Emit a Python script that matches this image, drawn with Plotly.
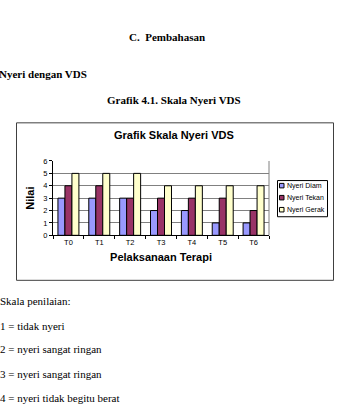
import plotly.graph_objects as go

# ---- data ----
categories = ["T0", "T1", "T2", "T3", "T4", "T5", "T6"]
series_names = ["Nyeri Diam", "Nyeri Tekan", "Nyeri Gerak"]
nyeri_diam = [3, 3, 3, 2, 2, 1, 1]
nyeri_tekan = [4, 4, 3, 3, 3, 3, 2]
nyeri_gerak = [5, 5, 5, 4, 4, 4, 4]
y_ticks = [0, 1, 2, 3, 4, 5, 6]
series_colors = ["#9999FF", "#993366", "#FFFFCC"]

chart_title = "Grafik Skala Nyeri VDS"
x_title = "Pelaksanaan Terapi"
y_title = "Nilai"

doc_heading = "C.\u00a0 Pembahasan"
doc_subheading = "Nyeri dengan VDS"
doc_caption = "Grafik 4.1. Skala Nyeri VDS"
doc_lines = [
    "Skala penilaian:",
    "1 = tidak nyeri",
    "2 = nyeri sangat ringan",
    "3 = nyeri sangat ringan",
    "4 = nyeri tidak begitu berat",
]

W, H = 337, 411


def fx(x):
    return x / W


def fy(y):
    return 1 - y / H


SANS = "Liberation Sans, Arial, sans-serif"
SERIF = "Liberation Serif, Times New Roman, serif"

fig = go.Figure()
for name, vals, col in zip(series_names, [nyeri_diam, nyeri_tekan, nyeri_gerak], series_colors):
    fig.add_trace(go.Bar(
        x=categories, y=vals, name=name,
        marker=dict(color=col, line=dict(color="#000000", width=1)),
        showlegend=False,
    ))

plot_l, plot_r, plot_t, plot_b = 53, 269, 160.5, 236.5

fig.update_layout(
    width=W, height=H,
    margin=dict(l=0, r=0, t=0, b=0),
    paper_bgcolor="white", plot_bgcolor="white",
    barmode="group", bargap=0.32, bargroupgap=0,
    font=dict(family=SANS, color="#000000", size=8),
    xaxis=dict(
        domain=[fx(plot_l), fx(plot_r)],
        anchor="y",
        showgrid=False, showline=True, linecolor="#000000", linewidth=1,
        ticks="outside", tickson="boundaries", ticklen=3, tickcolor="#000000",
        tickfont=dict(family=SANS, size=7.5),
        title=dict(text=f"<b>{x_title}</b>", font=dict(family=SANS, size=11), standoff=6),
        fixedrange=True,
    ),
    yaxis=dict(
        domain=[fy(plot_b), fy(plot_t)],
        anchor="x",
        range=[0, 6], tickvals=y_ticks,
        showgrid=True, gridcolor="#808080", gridwidth=1,
        showline=True, linecolor="#000000", linewidth=1,
        ticks="outside", ticklen=3, tickcolor="#000000",
        tickfont=dict(family=SANS, size=7.5),
        zeroline=False,
        title=dict(text=f"<b>{y_title}</b>", font=dict(family=SANS, size=11), standoff=6),
        fixedrange=True,
    ),
)

shapes = [
    # outer chart frame
    dict(type="rect", xref="paper", yref="paper",
         x0=fx(16.5), x1=fx(333.5), y0=fy(282.5), y1=fy(121.5),
         line=dict(color="#404040", width=1), fillcolor="rgba(0,0,0,0)", layer="below"),
    # plot-area right border
    dict(type="line", xref="paper", yref="paper",
         x0=fx(plot_r), x1=fx(plot_r), y0=fy(plot_b), y1=fy(plot_t),
         line=dict(color="#808080", width=1)),
    # legend frame
    dict(type="rect", xref="paper", yref="paper",
         x0=fx(277.5), x1=fx(327.5), y0=fy(217.5), y1=fy(180.5),
         line=dict(color="#000000", width=1), fillcolor="white"),
]

annotations = [
    dict(text=f"<b>{chart_title}</b>", x=fx(174), y=fy(134), xref="paper", yref="paper",
         xanchor="center", yanchor="middle", showarrow=False,
         font=dict(family=SANS, size=11, color="#000000")),
]

legend_y = [185.7, 198, 210.3]
for name, col, yy in zip(series_names, series_colors, legend_y):
    shapes.append(dict(type="rect", xref="paper", yref="paper",
                       x0=fx(279.5), x1=fx(284), y0=fy(yy + 2.3), y1=fy(yy - 2.3),
                       line=dict(color="#000000", width=1), fillcolor=col))
    annotations.append(dict(text=name, x=fx(285), y=fy(yy), xref="paper", yref="paper",
                            xanchor="left", yanchor="middle", showarrow=False,
                            font=dict(family=SANS, size=7, color="#000000")))

# document text around the chart
annotations += [
    dict(text=f"<b>{doc_heading}</b>", x=fx(166.5), y=fy(34), xref="paper", yref="paper",
         xanchor="center", yanchor="middle", showarrow=False,
         font=dict(family=SERIF, size=11, color="#000000")),
    dict(text=f"<b>{doc_subheading}</b>", x=fx(89), y=fy(71.5), xref="paper", yref="paper",
         xanchor="right", yanchor="middle", showarrow=False,
         font=dict(family=SERIF, size=11, color="#000000")),
    dict(text=f"<b>{doc_caption}</b>", x=fx(174.5), y=fy(98), xref="paper", yref="paper",
         xanchor="center", yanchor="middle", showarrow=False,
         font=dict(family=SERIF, size=11, color="#000000")),
]
doc_y = [304, 329, 353, 378, 403]
for txt, yy in zip(doc_lines, doc_y):
    annotations.append(dict(text=txt, x=fx(-2.5), y=fy(yy), xref="paper", yref="paper",
                            xanchor="left", yanchor="middle", showarrow=False,
                            font=dict(family=SERIF, size=11, color="#000000")))

fig.update_layout(shapes=shapes, annotations=annotations)

fig.write_html("out.html", config={"displayModeBar": False, "staticPlot": True})
